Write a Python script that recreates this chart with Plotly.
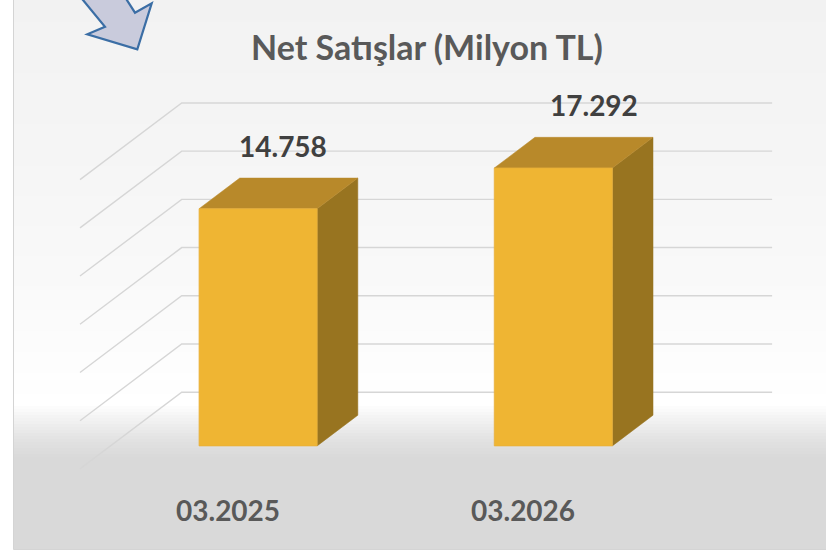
import plotly.graph_objects as go

# ---------------- data ----------------
categories = ["03.2025", "03.2026"]
values = [14758, 17292]
grid_values = [0, 3000, 6000, 9000, 12000, 15000, 18000]
title_text = "Net Satışlar (Milyon TL)"

# ---------------- layout / style constants ----------------
W, H = 826, 553
X0 = 80.0        # px of left edge of category band at front plane
CATW = 295.2     # px per category
Y0 = 468.9       # px of value 0 at front plane
S = 0.01607      # px per value unit
DX, DY = 101.7, 76.7   # oblique depth offset in px (full depth)
BAR_W = 0.4      # bar width (category units)
Z_FRONT, BAR_DEPTH = 0.30, 0.40

xr = [-0.5 - X0 / CATW, -0.5 + (W - X0) / CATW]
yr = [-(H - Y0) / S, Y0 / S]
ddx = DX / CATW
ddy = DY / S

FRONT_C = "#efb533"
TOP_C = "#b8892a"
SIDE_C = "#987420"
GRID_C = "#d6d6d6"
FONT = "Lato"

fig = go.Figure()


def px2paper(x, y):
    return x / W, 1 - y / H


# background gradient (decoration) as bands
def bg_color(ypx):
    stops = [(-5, 242), (150, 245), (300, 250), (405, 255), (412, 248), (440, 226), (458, 217), (560, 217)]
    for (y1, c1), (y2, c2) in zip(stops[:-1], stops[1:]):
        if y1 <= ypx <= y2:
            t = (ypx - y1) / (y2 - y1)
            c = round(c1 + t * (c2 - c1))
            return f"rgb({c},{c},{c})"
    return "rgb(217,217,217)"


shapes = []
y = -5
step = 3
while y < 549.5:
    y2 = min(y + step, 549.5)
    xa, ya = px2paper(13.5, y)
    xb, yb = px2paper(W + 5, y2)
    shapes.append(dict(type="rect", xref="paper", yref="paper", x0=xa, x1=xb, y0=yb, y1=ya,
                       fillcolor=bg_color((y + y2) / 2), line=dict(width=0), layer="below"))
    y = y2
# border of chart area
xa, ya = px2paper(13.5, -5)
xb, yb = px2paper(W + 5, 549.5)
shapes.append(dict(type="rect", xref="paper", yref="paper", x0=xa, x1=xb, y0=yb, y1=ya,
                   fillcolor="rgba(0,0,0,0)", line=dict(width=1, color="#d4d4d4"), layer="below"))

# decorative arrow (top-left)
arrow_px = [(78, -6), (123, -6), (135, 12.7), (151.7, 3.3), (137.3, 49.3), (87.3, 34.3), (105, 26.7)]
path = ""
for i, (ax, ay) in enumerate(arrow_px):
    px_, py_ = px2paper(ax, ay)
    path += ("M" if i == 0 else "L") + f"{px_},{py_} "
path += "Z"
shapes.append(dict(type="path", xref="paper", yref="paper", path=path,
                   fillcolor="#c9cbdc", line=dict(color="#3b6ea5", width=2.2), layer="above"))

# gridlines: back wall + left side wall
n = len(categories)
gx, gy = [], []
for v in grid_values:
    gx += [-0.5, -0.5 + ddx, n - 0.5 + ddx, None]
    gy += [v, v + ddy, v + ddy, None]
fig.add_trace(go.Scatter(x=gx, y=gy, mode="lines", line=dict(color=GRID_C, width=1.4),
                         hoverinfo="skip", showlegend=False))

# bars
zf, zb = Z_FRONT, Z_FRONT + BAR_DEPTH
for i, v in enumerate(values):
    l, r = i - BAR_W / 2, i + BAR_W / 2
    fx, fy = zf * ddx, zf * ddy
    bx, by = zb * ddx, zb * ddy
    # side face
    fig.add_trace(go.Scatter(x=[r + fx, r + bx, r + bx, r + fx, r + fx],
                             y=[fy, by, v + by, v + fy, fy],
                             fill="toself", fillcolor=SIDE_C, mode="lines",
                             line=dict(color=SIDE_C, width=0.5), hoverinfo="skip", showlegend=False))
    # top face
    fig.add_trace(go.Scatter(x=[l + fx, r + fx, r + bx, l + bx, l + fx],
                             y=[v + fy, v + fy, v + by, v + by, v + fy],
                             fill="toself", fillcolor=TOP_C, mode="lines",
                             line=dict(color=TOP_C, width=0.5), hoverinfo="skip", showlegend=False))
    # front face
    fig.add_trace(go.Scatter(x=[l + fx, r + fx, r + fx, l + fx, l + fx],
                             y=[fy, fy, v + fy, v + fy, fy],
                             fill="toself", fillcolor=FRONT_C, mode="lines",
                             line=dict(color="#e9b03a", width=0.8), hoverinfo="skip", showlegend=False))

annotations = []
label_xshift = [-16, 0]
for i, v in enumerate(values):
    annotations.append(dict(x=i + zb * ddx, y=v + zb * ddy, xref="x", yref="y",
                            text=f"{v:,}".replace(",", "."), showarrow=False,
                            xanchor="center", yanchor="middle", yshift=32, xshift=label_xshift[i],
                            font=dict(family=FONT, size=28, color="#404040", weight="bold")))
for i, c in enumerate(categories):
    annotations.append(dict(x=i, y=0, xref="x", yref="y", text=c, showarrow=False,
                            xanchor="center", yanchor="middle", yshift=-41,
                            font=dict(family=FONT, size=28, color="#595959", weight="bold")))
tx, ty = px2paper(426.7, 46)
annotations.append(dict(x=tx, y=ty, xref="paper", yref="paper", text=title_text, showarrow=False,
                        xanchor="center", yanchor="middle",
                        font=dict(family=FONT, size=34, color="#595959", weight="bold")))

fig.update_layout(
    width=W, height=H, margin=dict(l=0, r=0, t=0, b=0),
    paper_bgcolor="white", plot_bgcolor="rgba(0,0,0,0)",
    xaxis=dict(range=xr, visible=False, fixedrange=True),
    yaxis=dict(range=yr, visible=False, fixedrange=True),
    shapes=shapes, annotations=annotations, showlegend=False, hovermode=False,
)

fig.write_html("out.html", config={"displayModeBar": False},
               post_script="document.body.style.margin='0';document.body.style.overflow='hidden';")
